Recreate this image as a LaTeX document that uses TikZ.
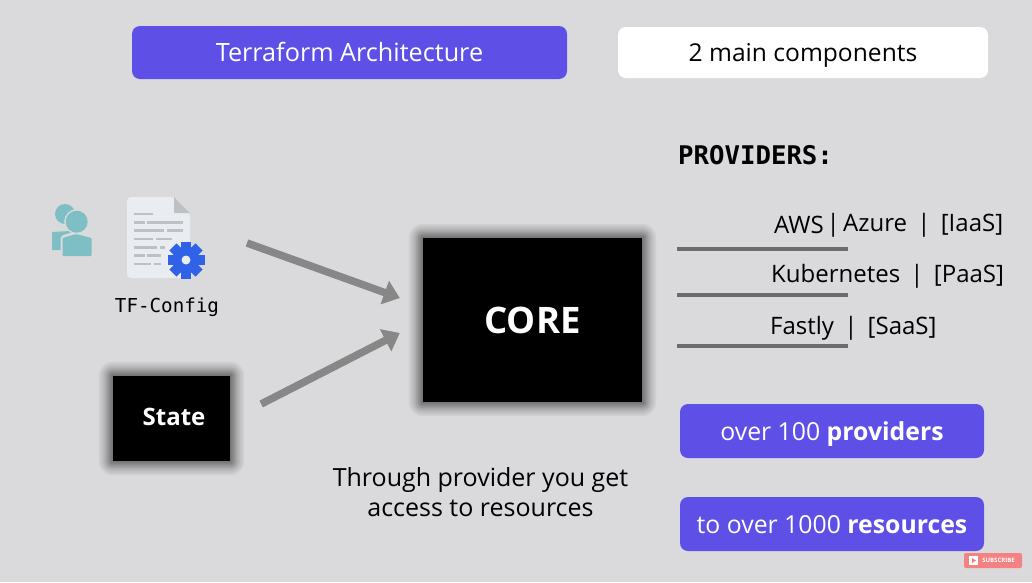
\documentclass[tikz,border=0pt]{standalone}
\usepackage{fontspec}
\setmainfont{Open Sans}
\setmonofont{DejaVu Sans Mono}
\usetikzlibrary{arrows.meta, positioning, backgrounds}

\definecolor{slide}{HTML}{DADADC}
\definecolor{violet}{HTML}{5E50E6}
\definecolor{rule}{HTML}{6C6C6C}
\definecolor{flow}{HTML}{878787}
\definecolor{paper}{HTML}{E9EDF2}
\definecolor{ink}{HTML}{BEC1C4}
\definecolor{cog}{HTML}{2F62E6}
\definecolor{teal}{HTML}{7DBFC4}
\definecolor{sub}{HTML}{F58282}

\tikzset{
	banner/.style={fill=violet, text=white, rounded corners=8pt, inner sep=0pt, text height=18pt, text depth=0pt, font=\fontsize{24.8}{28}\selectfont},
	whitebanner/.style={banner, fill=white, text=black},
	corebox/.style={fill=black, text=white, inner sep=0pt},
	listtext/.style={anchor=base west, inner sep=0pt, font=\fontsize{24}{28}\selectfont},
	rulerline/.style={draw=rule, line width=4pt},
	flowarrow/.style={draw=flow, line width=7.5pt, -{Triangle[length=16pt, width=24pt]}},
	inkline/.style={draw=ink, line width=2.4pt},
}

% soft edge round a black box
\newcommand{\softedge}[1]{
	\foreach \r in {1,2,3,4,5,6,7,8.5,10,12,14}
		\fill[black, opacity=0.05, rounded corners=\r pt]
			([shift={(-\r,\r)}]#1.south west) rectangle ([shift={(\r,-\r)}]#1.north east);
}

\begin{document}
\begin{tikzpicture}[x=1pt, y=-1pt, node distance=30pt, on grid]
	\useasboundingbox (0,0) rectangle (1032,582);

	% header
	\node[banner, minimum width=435pt, minimum height=53pt, font=\fontsize{25.2}{28}\selectfont] (title) at (349.5,52.5) {Terraform Architecture};
	\node[whitebanner, minimum width=370pt, minimum height=51pt, font=\fontsize{24.6}{28}\selectfont] (components) at (803,52.5) {2 main components};

	% black boxes
	\node[corebox, minimum width=219pt, minimum height=164pt, font=\fontsize{36.5}{40}\selectfont\bfseries] (core) at (532.5,320) {CORE};
	\node[corebox, minimum width=117pt, minimum height=85pt, text height=14pt, text depth=0pt, font=\fontsize{24}{28}\selectfont\bfseries] (state) at (171.5,418.5) {\hspace{5pt}State};
	\begin{scope}[on background layer]
		\fill[slide] (0,0) rectangle (1032,582);
		\softedge{core}
		\softedge{state}
	\end{scope}

	% people
	\fill[teal] (65,214) circle (10);
	\fill[teal] (52,232) -- (52,240) -- (52,250) -- (63,250) -- (63,236) -- (80,233) -- (70,231) -- cycle;
	\fill[slide] (76.7,221.7) circle (12.5);
	\fill[slide, rounded corners=3pt] (60.5,236) -- (60.5,258) -- (94,258) -- (94,234) -- (76,231) -- cycle;
	\fill[teal] (76.7,221.7) circle (11);
	\fill[teal, rounded corners=1pt] (62.5,238) -- (62.5,256) -- (91.5,256) -- (91.5,238) -- (76,234) -- cycle;

	% config file
	\fill[paper, rounded corners=4pt] (127,197) -- (174,197) -- (190,213) -- (190,278) -- (127,278) -- cycle;
	\fill[ink] (174,197) -- (190,213) -- (174,213) -- cycle;
	\foreach \yy/\xa/\xb/\xc/\xd in {
		214/134/153/134/153,
		222.5/134/144.5/147/183,
		230.5/134/164/167/183,
		239/134/153/156/172,
		247.5/134/157/160/165,
		255.5/134/144.5/147/161,
		264/134/151/153.5/161}
	{
		\draw[inkline] (\xa,\yy) -- (\xb,\yy);
		\draw[inkline] (\xc,\yy) -- (\xd,\yy);
	}
	\foreach \a in {0,45,...,315}
		\fill[cog, rotate around={\a:(186,260)}] (181,241.5) rectangle (191,252);
	\fill[cog] (186,260) circle (13.5);
	\fill[paper] (186,260) circle (4.5);
	\node[inner sep=0pt, font=\fontsize{19.2}{22}\selectfont\ttfamily] (config) at (167,307) {TF{-}Config};

	% arrows
	\coordinate[above right=64pt and 80pt of config] (configtail);
	\coordinate (configtip) at ([shift={(-23,-22)}]core.west);
	\coordinate (statetail) at ([shift={(31,-14.5)}]state.east);
	\coordinate (statetip) at ([shift={(-23,13)}]core.west);
	\draw[flowarrow] (configtail) -- (configtip);
	\draw[flowarrow] (statetail) -- (statetip);

	% caption
	\node[align=center, inner sep=0pt, font=\fontsize{25}{30.5}\selectfont] (caption) at (480.5,492) {Through provider you get\\access to resources};

	% providers list
	\node[anchor=west, inner sep=0pt, font=\fontsize{25.7}{28}\selectfont\ttfamily\bfseries] (providers) at (678,155) {PROVIDERS:};
	\node[listtext] (aws) at (774,233) {AWS};
	\node[listtext] (bar) at (826.5,231) {|};
	\node[listtext] (azure) at (843,231) {Azure \,|\, [IaaS]};
	\node[listtext] (kube) at (771,282) {Kubernetes \,|\, [PaaS]};
	\node[listtext] (fastly) at (770,334) {Fastly \,|\, [SaaS]};
	\foreach \yy/\nm in {249/ruleone, 295/ruletwo, 346/rulethree} {
		\coordinate (\nm a) at (677,\yy);
		\coordinate (\nm b) at (848,\yy);
		\draw[rulerline] (\nm a) -- (\nm b);
	}

	% counts
	\node[banner, minimum width=304pt, minimum height=54pt] (count) at (832,431) {over 100 \textbf{providers}};
	\node[banner, minimum width=304pt, minimum height=54pt, below=93pt of count] (reach) {to over 1000 \textbf{resources}};

	% subscribe
	\node[fill=sub, text=white, rounded corners=2pt, minimum width=58pt, minimum height=15pt, inner sep=0pt, font=\fontsize{6}{7}\selectfont\bfseries] (subscribe) at (993,560.5) {\hspace{11pt}SUBSCRIBE};
	\fill[white] (969,556) rectangle (978,565);
	\fill[sub] (972,558) -- (976,560.5) -- (972,563) -- cycle;
\end{tikzpicture}
\end{document}
